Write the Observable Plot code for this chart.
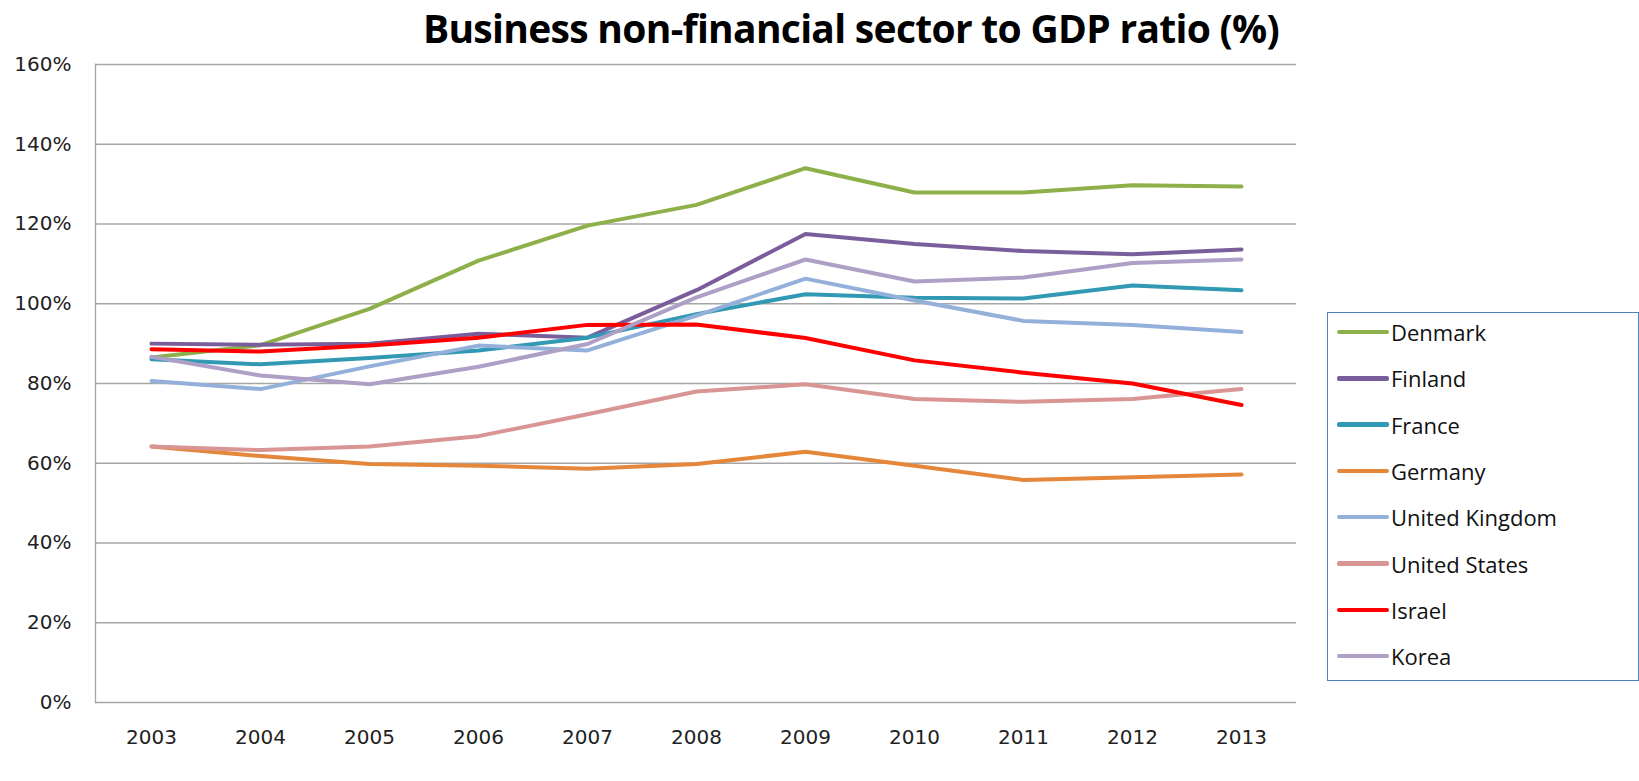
<!DOCTYPE html>
<html>
<head>
<meta charset="utf-8">
<script src="https://cdn.jsdelivr.net/npm/d3@7"></script>
<script src="https://cdn.jsdelivr.net/npm/@observablehq/plot@0.6"></script>
<style>
  html, body { margin: 0; padding: 0; background: #fff; }
  #wrap { position: relative; width: 1639px; height: 781px; overflow: hidden; }
  #title { position: absolute; z-index: 3; left: 0; top: 1px; width: 1702px; text-align: center;
           font-family: "Open Sans", sans-serif; font-weight: 700; font-size: 39px; color: #000;
           letter-spacing: -0.7px; white-space: nowrap; }
  #chart { position: absolute; z-index: 1; left: 0; top: 40px; }
  #legend { position: absolute; z-index: 2; left: 1327px; top: 312px; width: 312px; height: 369px;
            border: 1.5px solid #4F81BD; box-sizing: border-box; background: #fff; }
  .item { position: absolute; left: 9px; display: flex; align-items: center;
          font-family: "Open Sans", sans-serif; font-size: 22px; color: #111; }
  .swatch { width: 52px; height: 4.5px; border-radius: 2px; margin-right: 2px; }
</style>
</head>
<body>
<div id="wrap">
  <div id="title">Business non-financial sector to GDP ratio (%)</div>
  <div id="chart"></div>
  <div id="legend"></div>
</div>
<script>
const years = [2003, 2004, 2005, 2006, 2007, 2008, 2009, 2010, 2011, 2012, 2013];
const countries = ["Denmark", "Finland", "France", "Germany", "United Kingdom", "United States", "Israel", "Korea"];
const colors = ["#8DB04A", "#7A5E9C", "#3199B3", "#E5873B", "#93B0DA", "#D89593", "#FF0000", "#AE9FC6"];

const denmark = [86.5, 89.6, 98.7, 110.8, 119.6, 124.8, 134.0, 127.9, 127.9, 129.7, 129.4];
const finland = [90.0, 89.7, 90.0, 92.5, 91.5, 103.4, 117.5, 115.0, 113.2, 112.4, 113.6];
const france = [86.1, 84.8, 86.4, 88.3, 91.5, 97.4, 102.4, 101.5, 101.3, 104.6, 103.4];
const germany = [64.2, 61.8, 59.8, 59.4, 58.6, 59.8, 62.9, 59.4, 55.8, 56.5, 57.2];
const unitedKingdom = [80.6, 78.6, 84.3, 89.5, 88.3, 97.0, 106.3, 100.8, 95.7, 94.7, 92.9];
const unitedStates = [64.2, 63.3, 64.2, 66.8, 72.3, 78.0, 79.8, 76.1, 75.4, 76.1, 78.6];
const israel = [88.6, 88.0, 89.5, 91.5, 94.7, 94.8, 91.4, 85.8, 82.7, 80.0, 74.6];
const korea = [86.7, 82.0, 79.8, 84.2, 89.9, 101.6, 111.1, 105.6, 106.6, 110.2, 111.1];

const seriesValues = [denmark, finland, france, germany, unitedKingdom, unitedStates, israel, korea];
const yTicks = [0, 20, 40, 60, 80, 100, 120, 140, 160];

const data = [];
countries.forEach((c, i) => {
  seriesValues[i].forEach((v, j) => data.push({country: c, year: years[j], value: v}));
});

const chart = Plot.plot({
  width: 1639,
  height: 741,
  marginLeft: 95,
  marginRight: 343,
  marginTop: 24,
  marginBottom: 79,
  style: {fontFamily: "DejaVu Sans, Verdana, sans-serif", fontSize: "20px", color: "#222", background: "transparent"},
  x: {type: "point", domain: years, padding: 0.5, label: null},
  y: {domain: [0, 160], label: null},
  color: {domain: countries, range: colors},
  marks: [
    Plot.gridY(yTicks, {stroke: "#A6A6A6", strokeOpacity: 1, strokeWidth: 1.3}),
    Plot.frame({anchor: "left", stroke: "#A6A6A6", strokeWidth: 1.3}),
    Plot.axisX({tickSize: 0, tickPadding: 27, tickFormat: d => String(d), fontSize: 20}),
    Plot.axisY(yTicks, {tickSize: 0, tickPadding: 24, tickFormat: d => d + "%", fontSize: 20}),
    Plot.line(data, {x: "year", y: "value", z: "country", stroke: "country", strokeWidth: 4, strokeLinejoin: "round", strokeLinecap: "round"})
  ]
});
document.getElementById("chart").appendChild(chart);

const legend = document.getElementById("legend");
countries.forEach((c, i) => {
  const item = document.createElement("div");
  item.className = "item";
  item.style.top = (4 + i * 46.3) + "px";
  const sw = document.createElement("div");
  sw.className = "swatch";
  sw.style.background = colors[i];
  const label = document.createElement("span");
  label.textContent = c;
  item.appendChild(sw);
  item.appendChild(label);
  legend.appendChild(item);
});
</script>
</body>
</html>
